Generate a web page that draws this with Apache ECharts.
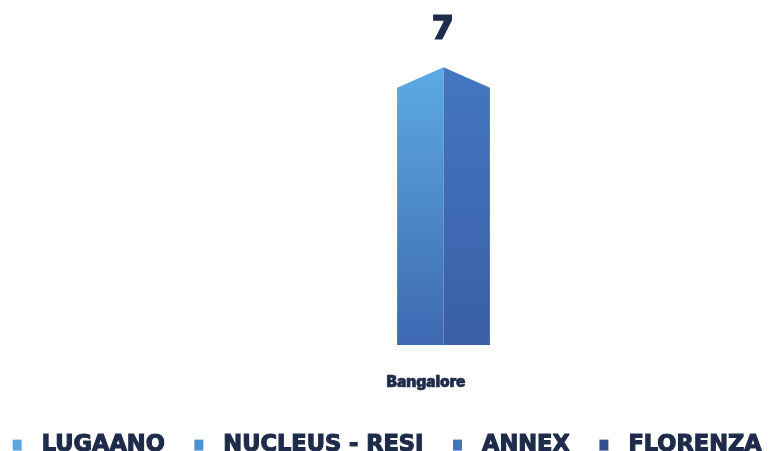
<!DOCTYPE html>
<html><head><meta charset="utf-8">
<script src="https://cdn.jsdelivr.net/npm/echarts@6/dist/echarts.min.js"></script>
<style>html,body{margin:0;padding:0;background:#fff}#c{width:775px;height:451px}</style>
</head><body><div id="c"></div>
<script>
const categories = ['Bangalore'];
const seriesNames = ['LUGAANO', 'NUCLEUS - RESI', 'ANNEX', 'FLORENZA'];
const seriesValues = [[7], [null], [null], [null]];
const seriesColors = ['#5ba8e0', '#4a94d5', '#4473bd', '#344f8e'];

const chart = echarts.init(document.getElementById('c'));
const font = 'Inter, "DejaVu Sans", sans-serif';

function renderBar(params, api) {
  const v = api.value(1);
  if (v == null || isNaN(v)) return;
  const top = api.coord([api.value(0), v]);
  const base = api.coord([api.value(0), 0]);
  const band = api.size([1, 0])[0];
  const w = band * 0.14;
  const cx = top[0];
  const l = cx - w / 2, r = cx + w / 2;
  const peak = w * 0.22;
  return {
    type: 'group',
    children: [
      { type: 'polygon', shape: { points: [[l, top[1]], [cx, top[1] - peak], [cx, base[1]], [l, base[1]]] },
        style: { fill: new echarts.graphic.LinearGradient(0, 0, 0, 1, [{ offset: 0, color: '#5cabe3' }, { offset: 1, color: '#3e68b1' }]) } },
      { type: 'polygon', shape: { points: [[cx, top[1] - peak], [r, top[1]], [r, base[1]], [cx, base[1]]] },
        style: { fill: new echarts.graphic.LinearGradient(0, 0, 0, 1, [{ offset: 0, color: '#4377bf' }, { offset: 1, color: '#3a5ea7' }]) } },
      { type: 'text', style: { text: String(v), x: cx - 1, y: top[1] - peak - 22, align: 'center', verticalAlign: 'bottom',
        font: '900 33px ' + font, fill: '#1e2b4a', stroke: '#1e2b4a', lineWidth: 1 } }
    ]
  };
}

chart.setOption({
  animation: false,
  grid: { left: 112, right: 0, top: 51, bottom: 106 },
  legend: {
    top: 428, left: 'center', itemWidth: 9, itemHeight: 11, itemGap: 29, icon: 'rect',
    data: seriesNames,
    textStyle: { fontFamily: '"DejaVu Sans", sans-serif', fontWeight: 'bold', fontSize: 22.5, color: '#1e2b4a',
      textBorderColor: '#1e2b4a', textBorderWidth: 1.2, padding: [0, 0, 0, 15] }
  },
  xAxis: {
    type: 'category', data: categories,
    axisLine: { show: false }, axisTick: { show: false },
    axisLabel: { margin: 29, fontFamily: font, fontWeight: 900, fontSize: 15.5, color: '#1e2b4a',
      textBorderColor: '#1e2b4a', textBorderWidth: 0.6, padding: [0, 35, 0, 0] }
  },
  yAxis: { type: 'value', min: 0, max: 8, show: false, splitLine: { show: false } },
  series: seriesNames.map((n, i) => ({
    name: n, type: 'custom', color: seriesColors[i],
    renderItem: renderBar,
    encode: { x: 0, y: 1 },
    data: seriesValues[i].map((v, j) => [j, v])
  }))
});
</script></body></html>
